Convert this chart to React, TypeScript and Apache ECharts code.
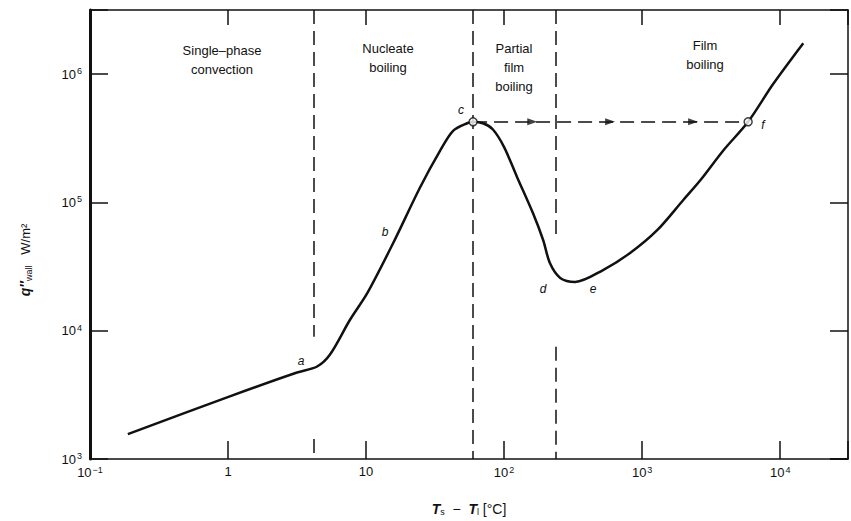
import React, { useEffect, useRef } from "react";
import * as echarts from "echarts";

// Boiling curve: wall superheat (°C) vs wall heat flux (W/m²)
const superheat = [0.188, 1.03, 3.16, 4.42, 5.48, 7.65, 10.2, 15.7, 24.6, 34.4, 42.7, 54, 59.6, 71, 83, 100, 124, 162, 192, 215, 255, 327, 521, 818, 1285, 1980, 2630, 3860, 5860, 8890, 14700];
const heatFlux = [1563, 3080, 4720, 5260, 6520, 12170, 19600, 48100, 130600, 253000, 361000, 414000, 425000, 412000, 370000, 270000, 158000, 82200, 50700, 33500, 25800, 24000, 29700, 40300, 60700, 104000, 148000, 253000, 425000, 836000, 1740000];

// critical heat flux point c and film-boiling point f
const criticalPoints = [[59.6, 425000], [5860, 425000]];
// arrows along the transition path c -> f
const arrowX = [160, 586, 2340];
// regime boundaries (superheat)
const boundaryA = 4.2;
const boundaryC = 59.6;
const boundaryD = 238;

const xTickLabels: Record<string, string> = { "-1": "{b|10}{s|−1}", "0": "{b|1}", "1": "{b|10}", "2": "{b|10}{s|2}", "3": "{b|10}{s|3}", "4": "{b|10}{s|4}" };
const yTickLabels: Record<string, string> = { "3": "{b|10}{s|3}", "4": "{b|10}{s|4}", "5": "{b|10}{s|5}", "6": "{b|10}{s|6}" };

const X_MIN = 0.1;
const X_MAX = 31000;
const Y_MIN = 1000;
const Y_MAX = 3160000;

function powLabel(map: Record<string, string>) {
  return (v: number) => {
    const e = Math.log10(v);
    const r = Math.round(e);
    if (Math.abs(e - r) > 1e-6) return "";
    return map[String(r)] ?? "";
  };
}

export default function App() {
  const ref = useRef<HTMLDivElement>(null);
  useEffect(() => {
    if (!ref.current) return;
    const chart = echarts.init(ref.current, null, { renderer: "svg" });
    const font = "Liberation Sans, Arial, sans-serif";
    const black = "#111";
    const dash = { type: [14, 7] as any, color: black, width: 1.5 };
    const curve = superheat.map((x, i) => [x, heatFlux[i]]);
    const regimeStyle = { fill: black, font: `13px ${font}`, textAlign: "center" as const, lineHeight: 19 };
    const tickRich = {
      b: { fontSize: 13, fontFamily: font, color: black },
      s: { fontSize: 9, fontFamily: font, color: black, verticalAlign: "top" as const, padding: [0, 0, 6, 1] },
    };
    const letter = (t: string, x: number, y: number) => ({
      type: "text",
      x,
      y,
      style: { text: t, fill: black, font: `italic 12px ${font}`, textAlign: "center", textVerticalAlign: "middle" },
    });
    const baseX = {
      type: "log" as const,
      min: X_MIN,
      max: X_MAX,
      splitLine: { show: false },
      axisTick: { inside: true, length: 18, lineStyle: { color: black, width: 1.5 } },
    };
    const baseY = {
      type: "log" as const,
      min: Y_MIN,
      max: Y_MAX,
      splitLine: { show: false },
      axisTick: { inside: true, length: 18, lineStyle: { color: black, width: 1.5 } },
    };
    chart.setOption({
      animation: false,
      backgroundColor: "#fff",
      grid: { left: 90, top: 10, right: 3, bottom: 61 },
      xAxis: [
        {
          ...baseX,
          position: "bottom",
          axisLine: { lineStyle: { color: black, width: 1.5 } },
          axisLabel: { formatter: powLabel(xTickLabels), color: black, fontFamily: font, margin: 6, rich: tickRich },
          name: "{t|T}{s|s}{n|  −  }{t|T}{s|l}{n| [°C]}",
          nameLocation: "middle",
          nameGap: 42,
          nameTextStyle: {
            rich: {
              t: { fontSize: 14, fontStyle: "italic", fontWeight: "bold", fontFamily: font, color: black },
              s: { fontSize: 9, fontFamily: font, color: black, verticalAlign: "bottom", padding: [6, 0, 0, 0] },
              n: { fontSize: 14, fontFamily: font, color: black },
            },
          },
        },
        {
          ...baseX,
          position: "top",
          axisLine: { lineStyle: { color: black, width: 1.5 } },
          axisTick: { inside: true, length: 15, lineStyle: { color: black, width: 1.5 } },
          axisLabel: { show: false },
        },
      ],
      yAxis: [
        {
          ...baseY,
          position: "left",
          axisLine: { lineStyle: { color: black, width: 3 } },
          axisLabel: { formatter: powLabel(yTickLabels), color: black, fontFamily: font, margin: 8, rich: tickRich },
        },
        {
          ...baseY,
          position: "right",
          axisLine: { lineStyle: { color: black, width: 1.5 } },
          axisLabel: { show: false },
        },
      ],
      series: [
        {
          type: "line",
          data: curve,
          smooth: 0.3,
          showSymbol: false,
          lineStyle: { color: black, width: 2.5 },
          z: 5,
          markLine: {
            silent: true,
            symbol: ["none", "none"],
            label: { show: false },
            lineStyle: dash,
            data: [
              [{ coord: [boundaryA, Y_MAX] }, { coord: [boundaryA, 8980] }],
              [{ coord: [boundaryA, 1430] }, { coord: [boundaryA, Y_MIN] }],
              [{ coord: [boundaryC, Y_MAX] }, { coord: [boundaryC, Y_MIN] }],
              [{ coord: [boundaryD, Y_MAX] }, { coord: [boundaryD, 50700] }],
              [{ coord: [boundaryD, 7500] }, { coord: [boundaryD, Y_MIN] }],
              [{ coord: criticalPoints[0] }, { coord: criticalPoints[1] }],
            ],
          },
        },
        {
          type: "scatter",
          data: arrowX.map((x) => [x, criticalPoints[0][1]]),
          symbol: "triangle",
          symbolRotate: -90,
          symbolSize: [7, 10],
          itemStyle: { color: black },
          z: 6,
        },
        {
          type: "scatter",
          data: criticalPoints,
          symbol: "circle",
          symbolSize: 8,
          itemStyle: { color: "#fff", borderColor: black, borderWidth: 1.5 },
          z: 7,
        },
      ],
      graphic: [
        { type: "text", x: 222, y: 41, style: { ...regimeStyle, text: "Single–phase\nconvection" } },
        { type: "text", x: 388, y: 39, style: { ...regimeStyle, text: "Nucleate\nboiling" } },
        { type: "text", x: 514, y: 39, style: { ...regimeStyle, text: "Partial\nfilm\nboiling" } },
        { type: "text", x: 705, y: 36, style: { ...regimeStyle, text: "Film\nboiling" } },
        letter("a", 301, 361),
        letter("b", 385, 232),
        letter("c", 461, 110),
        letter("d", 543, 289),
        letter("e", 593, 289),
        letter("f", 763, 125),
        {
          type: "text",
          x: 25,
          y: 260,
          rotation: Math.PI / 2,
          style: {
            text: "{q|q″}{s|wall}{n|   W/m²}",
            textAlign: "center",
            textVerticalAlign: "middle",
            rich: {
              q: { fontSize: 14, fontStyle: "italic", fontWeight: "bold", fontFamily: font, fill: black, color: black },
              s: { fontSize: 9, fontFamily: font, fill: black, color: black, verticalAlign: "bottom", padding: [7, 0, 0, 0] },
              n: { fontSize: 13, fontFamily: font, fill: black, color: black },
            },
          },
        },
      ],
    });
    return () => chart.dispose();
  }, []);
  return <div ref={ref} style={{ position: "fixed", left: 0, top: 0, width: 851, height: 521 }} />;
}
